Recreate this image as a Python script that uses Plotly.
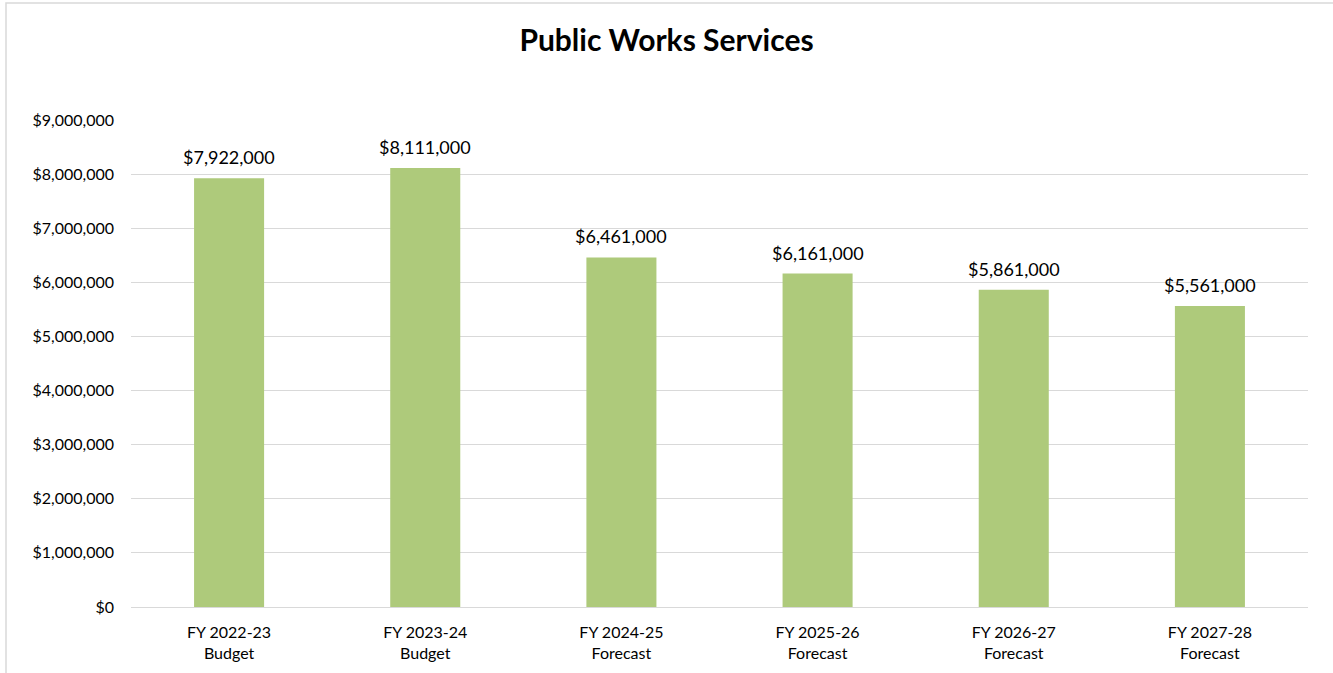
import plotly.graph_objects as go

categories = ["FY 2022-23<br>Budget", "FY 2023-24<br>Budget", "FY 2024-25<br>Forecast",
              "FY 2025-26<br>Forecast", "FY 2026-27<br>Forecast", "FY 2027-28<br>Forecast"]
values = [7922000, 8111000, 6461000, 6161000, 5861000, 5561000]
tick_vals = [0, 1000000, 2000000, 3000000, 4000000, 5000000, 6000000, 7000000, 8000000, 9000000]
tick_text = ["$0", "$1,000,000", "$2,000,000", "$3,000,000", "$4,000,000", "$5,000,000",
             "$6,000,000", "$7,000,000", "$8,000,000", "$9,000,000"]
labels = ["${:,}".format(v) for v in values]

FONT = "Lato, 'Open Sans', sans-serif"
W, H = 1333, 673
L, R, T, B = 131, 25, 120, 66
pw, ph = W - L - R, H - T - B

fig = go.Figure(go.Bar(
    x=categories, y=values,
    marker=dict(color="#aeca7b", line=dict(width=0)),
    cliponaxis=False,
))

annotations = [dict(x=c, y=v, xref="x", yref="y", text=t, showarrow=False,
                    yanchor="bottom", xanchor="center", yshift=8,
                    font=dict(size=18, color="#000000", family=FONT))
               for c, v, t in zip(categories, values, labels)]

def px_x(p):
    return (p - L) / pw

def px_y(p):
    return (H - B - p) / ph

fig.update_layout(
    width=W, height=H,
    margin=dict(l=L, r=R, t=T, b=B),
    paper_bgcolor="white", plot_bgcolor="white",
    font=dict(family=FONT, color="#000000"),
    title=dict(text="<b>Public Works Services</b>", x=0.5, xref="container", xanchor="center",
               y=1 - 40 / H, yanchor="middle", font=dict(size=30, family=FONT, color="#000000")),
    bargap=0.643,
    showlegend=False,
    annotations=annotations,
    shapes=[dict(type="rect", xref="paper", yref="paper",
                 x0=px_x(6), x1=px_x(1345), y0=px_y(690), y1=px_y(3),
                 line=dict(color="#d9d9d9", width=1.5), fillcolor="rgba(0,0,0,0)", layer="below")],
)
fig.update_xaxes(showgrid=False, showline=False, ticks="", tickfont=dict(size=16, family=FONT),
                 ticklabelstandoff=14)
fig.update_yaxes(range=[0, 9000000], tickvals=tick_vals, ticktext=tick_text,
                 showgrid=True, gridcolor="#d9d9d9", gridwidth=1,
                 zeroline=True, zerolinecolor="#d9d9d9", zerolinewidth=1,
                 showline=False, ticks="", tickfont=dict(size=16, family=FONT),
                 ticklabelstandoff=16)

fig.write_html("out.html", config={"displayModeBar": False},
               post_script="document.body.style.margin='0';document.body.style.overflow='hidden';")
